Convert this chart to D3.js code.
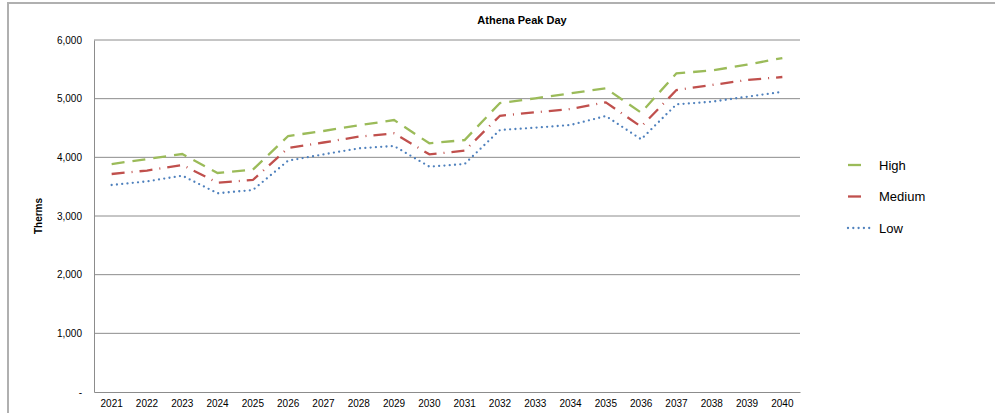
<!DOCTYPE html>
<html>
<head>
<meta charset="utf-8">
<script src="https://cdn.jsdelivr.net/npm/d3@7"></script>
<style>
  body { margin: 0; background: #fff; }
  svg { display: block; font-family: "Liberation Sans", Arial, sans-serif; }
</style>
</head>
<body>
<div id="chart"></div>
<script>
// data
var years = ["2021","2022","2023","2024","2025","2026","2027","2028","2029","2030",
             "2031","2032","2033","2034","2035","2036","2037","2038","2039","2040"];
var high   = [3886, 3971, 4057, 3733, 3790, 4363, 4449, 4545, 4636, 4239,
              4295, 4926, 5006, 5091, 5176, 4761, 5432, 5480, 5580, 5693];
var medium = [3716, 3775, 3870, 3568, 3614, 4159, 4253, 4352, 4409, 4051,
              4113, 4709, 4767, 4824, 4937, 4522, 5147, 5233, 5318, 5369];
var low    = [3528, 3590, 3687, 3387, 3443, 3943, 4050, 4153, 4193, 3841,
              3886, 4466, 4505, 4551, 4704, 4307, 4903, 4948, 5033, 5116];
var yTicks = [0, 1000, 2000, 3000, 4000, 5000, 6000];

var series = [
  { name: "High",   values: high,   color: "#9bbb59", dash: "13,8",     cap: "butt" },
  { name: "Medium", values: medium, color: "#c0504d", dash: "13,7,1,7", cap: "butt" },
  { name: "Low",    values: low,    color: "#4f81bd", dash: "0,5.3",    cap: "round" }
];

var width = 995, height = 413;
var margin = { top: 40, right: 195, bottom: 21, left: 94 };
var w = width - margin.left - margin.right,
    h = height - margin.top - margin.bottom;

var svg = d3.select("#chart").append("svg")
    .attr("width", width)
    .attr("height", height);

// outer chart frame
svg.append("rect")
    .attr("x", 8).attr("y", 3)
    .attr("width", 1100).attr("height", 500)
    .attr("fill", "none")
    .attr("stroke", "#b0b0b0")
    .attr("stroke-width", 2);

svg.append("text")
    .attr("x", 522).attr("y", 24)
    .attr("text-anchor", "middle")
    .style("font-size", "11px")
    .style("font-weight", "bold")
    .text("Athena Peak Day");

var g = svg.append("g")
    .attr("transform", "translate(" + margin.left + "," + margin.top + ")");

var xScale = d3.scaleBand().domain(years).range([0, w]);
var yScale = d3.scaleLinear().domain([0, 6000]).range([h, 0]);

// gridlines
g.selectAll(".grid")
    .data(yTicks.slice(1))
    .enter().append("line")
    .attr("x1", 0).attr("x2", w)
    .attr("y1", function(d) { return yScale(d); })
    .attr("y2", function(d) { return yScale(d); })
    .attr("stroke", "#8c8c8c")
    .attr("stroke-width", 1);

// y axis
var yAxis = g.append("g")
    .call(d3.axisLeft(yScale).tickValues(yTicks).tickSize(0).tickPadding(12)
      .tickFormat(function(d) { return d === 0 ? "-" : d3.format(",")(d); }));
yAxis.select(".domain").attr("stroke", "#8c8c8c");
yAxis.selectAll("text").style("font-size", "10px").attr("fill", "#000");

// x axis
var xAxis = g.append("g")
    .attr("transform", "translate(0," + h + ")")
    .call(d3.axisBottom(xScale).tickSize(0).tickPadding(8));
xAxis.select(".domain").attr("stroke", "#8c8c8c");
xAxis.selectAll("text").style("font-size", "10px").attr("fill", "#000");

svg.append("text")
    .attr("transform", "translate(42," + (margin.top + yScale(3000)) + ") rotate(-90)")
    .attr("text-anchor", "middle")
    .style("font-size", "10px")
    .style("font-weight", "bold")
    .text("Therms");

var line = d3.line()
    .x(function(d, i) { return xScale(years[i]) + xScale.bandwidth() / 2; })
    .y(function(d) { return yScale(d); });

series.forEach(function(s) {
  g.append("path")
      .datum(s.values)
      .attr("d", line)
      .attr("fill", "none")
      .attr("stroke", s.color)
      .attr("stroke-width", 2.3)
      .attr("stroke-dasharray", s.dash)
      .attr("stroke-linecap", s.cap);
});

// legend
var legend = svg.append("g").attr("transform", "translate(848,165)");
series.forEach(function(s, i) {
  var row = legend.append("g").attr("transform", "translate(0," + (i * 31.5) + ")");
  row.append("line")
      .attr("x1", 0).attr("x2", s.name === "Low" ? 25 : 13)
      .attr("y1", 0).attr("y2", 0)
      .attr("stroke", s.color)
      .attr("stroke-width", 2.3)
      .attr("stroke-dasharray", s.name === "Low" ? s.dash : null)
      .attr("stroke-linecap", s.cap);
  row.append("text")
      .attr("x", 31).attr("y", 4.5)
      .style("font-size", "13px")
      .text(s.name);
});
</script>
</body>
</html>
